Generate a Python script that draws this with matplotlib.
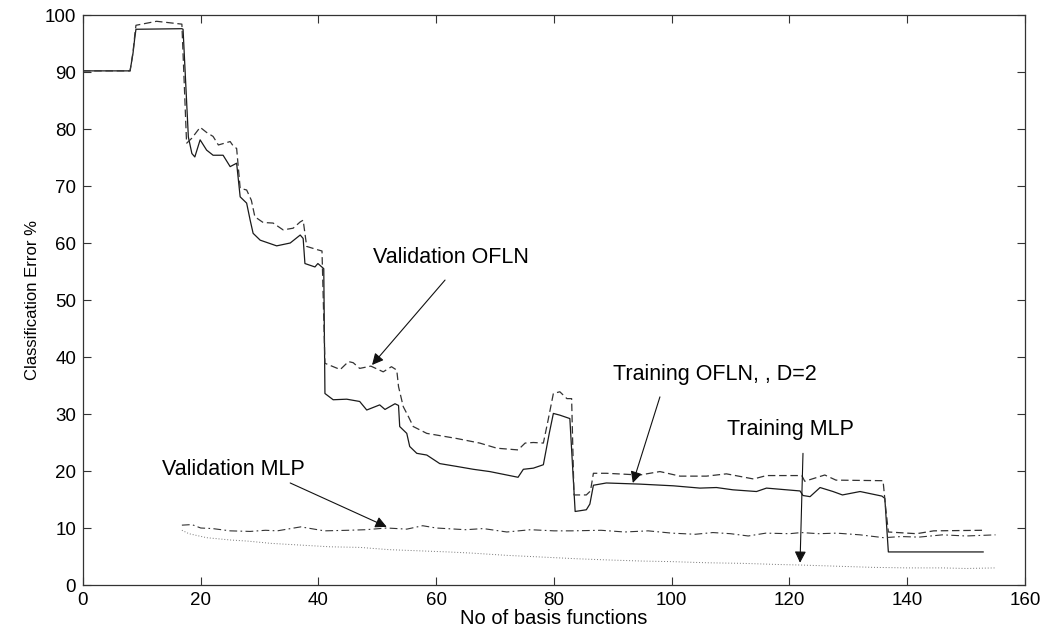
import matplotlib
matplotlib.use('Agg')
import matplotlib.pyplot as plt

plt.rcParams['font.family'] = ['Liberation Sans', 'DejaVu Sans']

# Training OFLN, D=2 (solid)
train_ofln_x = [0, 8.0, 8.5, 8.8, 9.0, 16.8, 17.0, 17.9, 18.5, 19.0, 19.9, 21.0, 22.1, 23.8, 25.0,
                26.1, 26.7, 27.8, 28.4, 28.9, 30.1, 32.9, 35.2, 36.9, 37.4, 37.7, 39.4, 39.9, 40.9,
                41.1, 42.5, 44.8, 47.0, 48.2, 50.4, 51.3, 53.0, 53.6, 53.8, 55.0, 55.5, 56.7, 58.4,
                60.6, 63.5, 66.3, 69.1, 73.9, 74.8, 76.5, 78.2, 79.2, 79.9, 81.0, 82.7, 83.6, 85.5,
                86.1, 86.7, 88.9, 94.6, 100.3, 104.8, 107.6, 110.4, 114.4, 116.1, 121.8, 122.3,
                123.5, 125.2, 127.4, 129.0, 132.0, 135.7, 136.2, 136.8, 152.9]
train_ofln_y = [90.2, 90.2, 93.3, 96.0, 97.5, 97.6, 97.5, 78.6, 75.7, 75.1, 78.1, 76.3, 75.4, 75.4, 73.4,
                74.0, 68.1, 67.0, 64.0, 61.7, 60.5, 59.5, 60.0, 61.4, 60.8, 56.4, 55.8, 56.4, 55.5,
                33.6, 32.5, 32.6, 32.2, 30.7, 31.6, 30.8, 31.8, 31.5, 27.8, 26.6, 24.3, 23.1, 22.8,
                21.3, 20.8, 20.3, 19.9, 18.9, 20.3, 20.5, 21.1, 26.6, 30.1, 29.8, 29.2, 12.9, 13.2,
                14.2, 17.5, 17.9, 17.7, 17.4, 17.0, 17.1, 16.7, 16.4, 17.0, 16.5, 15.7,
                15.5, 17.1, 16.4, 15.8, 16.4, 15.6, 15.2, 5.8, 5.8]

# Validation OFLN (dashed)
val_ofln_x = [0, 8.0, 8.5, 8.8, 9.0, 12.5, 16.8, 17.2, 17.6, 18.5, 19.9, 21.0, 22.1, 23.0, 25.0, 25.6,
              26.1, 26.7, 27.8, 28.6, 29.2, 30.6, 32.3, 34.0, 35.7, 36.9, 37.4, 38.0, 39.9, 40.6,
              41.1, 43.7, 45.1, 45.9, 47.0, 48.9, 51.0, 52.4, 53.3, 53.6, 54.4, 55.3, 56.1, 58.4,
              63.5, 67.4, 70.3, 73.9, 75.1, 76.5, 78.2, 79.0, 79.9, 81.0, 82.2, 83.0, 83.4, 85.5,
              86.2, 86.7, 88.9, 94.6, 98.0, 101.4, 105.9, 109.3, 113.9, 116.1, 122.1, 122.6,
              126.0, 127.9, 135.9, 136.3, 136.8, 141.6, 144.5, 152.9]
val_ofln_y = [90.2, 90.2, 93.5, 96.5, 98.2, 98.9, 98.4, 88.0, 77.5, 78.4, 80.3, 79.4, 78.7, 77.2, 77.8, 76.9,
              76.6, 69.6, 69.3, 67.5, 64.6, 63.6, 63.5, 62.3, 62.6, 63.7, 64.0, 59.4, 58.8, 58.6,
              38.9, 37.8, 39.2, 39.0, 38.0, 38.4, 37.4, 38.3, 37.7, 34.8, 31.3, 29.5, 27.8, 26.6,
              25.7, 24.9, 24.0, 23.7, 24.9, 25.0, 24.9, 28.9, 33.6, 33.9, 32.7, 32.7, 15.8, 15.8,
              16.5, 19.6, 19.6, 19.3, 19.9, 19.1, 19.1, 19.5, 18.6, 19.2, 19.2, 18.2,
              19.3, 18.4, 18.3, 14.0, 9.3, 9.0, 9.5, 9.6]

# Validation MLP (dash-dot)
val_mlp_x = [16.8, 18.5, 20, 22, 25, 28.4, 31, 33, 37, 41, 45, 48, 51.6, 55, 57.7, 60, 65, 68, 72, 76,
             80, 83, 88, 92, 96, 100, 104, 107, 110, 113, 116, 120, 122, 125, 128, 132, 136, 139,
             142, 146, 150, 155]
val_mlp_y = [10.5, 10.6, 10.0, 9.9, 9.5, 9.4, 9.6, 9.5, 10.2, 9.5, 9.6, 9.7, 10.0, 9.8, 10.4, 10.0, 9.7,
             9.9, 9.3, 9.7, 9.5, 9.5, 9.6, 9.3, 9.5, 9.1, 8.9, 9.2, 9.0, 8.6, 9.1, 9.0, 9.2, 9.0, 9.1,
             8.8, 8.3, 8.5, 8.4, 8.8, 8.6, 8.8]

# Training MLP (dotted)
train_mlp_x = [16.8, 18, 21, 25, 28, 32, 37, 42, 47, 52, 57, 62, 66, 72, 78, 84, 89, 95, 100, 106,
               112, 118, 122, 128, 134, 140, 146, 150, 155]
train_mlp_y = [9.6, 9.0, 8.3, 7.9, 7.7, 7.3, 7.0, 6.7, 6.6, 6.2, 6.0, 5.8, 5.6, 5.2, 4.9, 4.6, 4.4, 4.2,
               4.1, 3.9, 3.8, 3.6, 3.5, 3.3, 3.1, 3.0, 3.0, 2.9, 3.0]

fig = plt.figure(figsize=(10.45, 6.31), dpi=100)
ax = fig.add_axes([0.0794, 0.0729, 0.9014, 0.9033])

ax.plot(train_ofln_x, train_ofln_y, color='#1a1a1a', lw=0.9, ls='-')
ax.plot(val_ofln_x, val_ofln_y, color='#333333', lw=0.9, dashes=(6, 3))
ax.plot(val_mlp_x, val_mlp_y, color='#333333', lw=0.8, dashes=(7, 3, 1.5, 3))
ax.plot(train_mlp_x, train_mlp_y, color='#777777', lw=0.7, dashes=(1, 2))

ax.set_xlim(0, 160)
ax.set_ylim(0, 100)
ax.set_xticks(range(0, 161, 20))
ax.set_yticks(range(0, 101, 10))
for sp in ax.spines.values():
    sp.set_color('#333333')
    sp.set_linewidth(0.9)
ax.tick_params(direction='in', top=True, right=True, length=6, width=0.8,
               color='#333333', labelsize=13.5, pad=5)

ax.set_xlabel('No of basis functions', fontsize=14.5, labelpad=0)
ax.set_ylabel('Classification Error %', fontsize=12, labelpad=3)

# annotations
arrow = dict(arrowstyle='-|>', color='#111111', lw=0.8, mutation_scale=17, shrinkA=0, shrinkB=0)
ax.text(49.3, 57.4, 'Validation OFLN', fontsize=15.5, va='center', ha='left')
ax.annotate('', xy=(49.1, 38.6), xytext=(61.5, 53.5), arrowprops=arrow)
ax.text(90.0, 37.0, 'Training OFLN, , D=2', fontsize=15.5, va='center', ha='left')
ax.annotate('', xy=(93.4, 17.9), xytext=(98.0, 33.0), arrowprops=arrow)
ax.text(109.4, 27.2, 'Training MLP', fontsize=15.5, va='center', ha='left')
ax.annotate('', xy=(121.8, 3.9), xytext=(122.3, 23.1), arrowprops=arrow)
ax.text(13.4, 20.2, 'Validation MLP', fontsize=15.5, va='center', ha='left')
ax.annotate('', xy=(51.6, 10.2), xytext=(35.2, 17.9), arrowprops=arrow)

fig.savefig('out.png', dpi=100)
